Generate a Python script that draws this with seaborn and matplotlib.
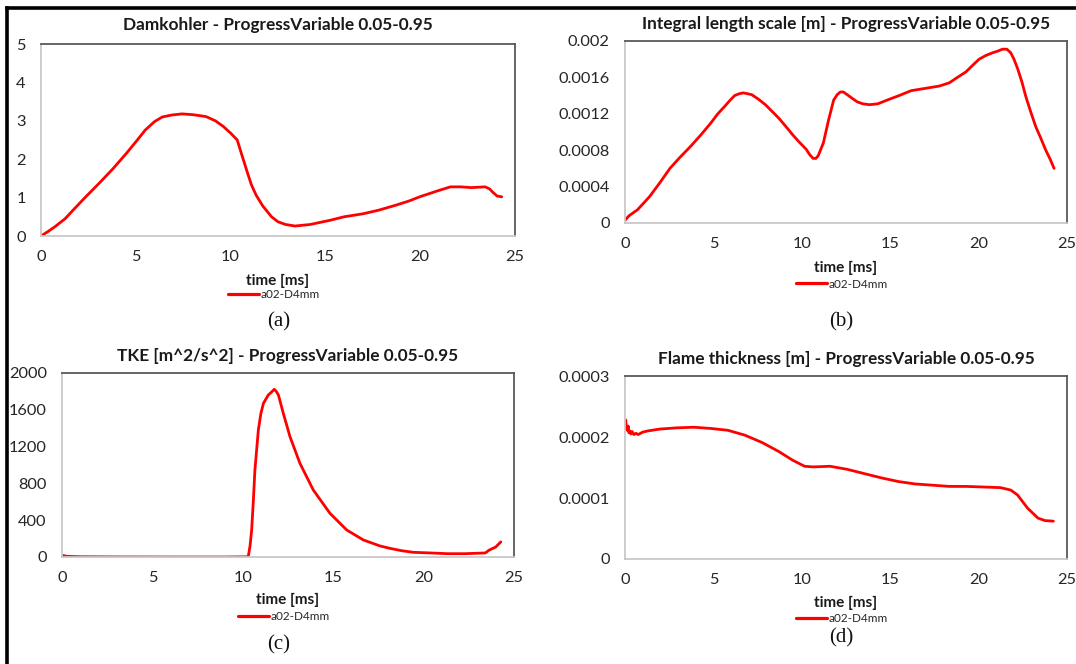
import numpy as np
import pandas as pd
import matplotlib
matplotlib.use("Agg")
import matplotlib.pyplot as plt
from matplotlib.lines import Line2D
import seaborn as sns

# ---- data -------------------------------------------------------------
series_name = "a02-D4mm"
x_ticks = [0, 5, 10, 15, 20, 25]

dam_t = [0.0, 0.35, 0.73, 1.27, 1.8, 2.36, 3.1, 3.81, 4.5, 5.08, 5.5, 5.99,
         6.4, 6.9, 7.44, 8.0, 8.7, 9.2, 9.62, 10.0, 10.35, 10.6, 10.9, 11.1,
         11.35, 11.7, 12.16, 12.5, 12.9, 13.4, 14.2, 15.25, 15.98, 17.0, 17.79,
         18.7, 19.4, 19.97, 20.88, 21.6, 22.15, 22.7, 23.42, 23.65, 23.85,
         24.06, 24.3]
dam_v = [0.0, 0.11, 0.24, 0.45, 0.73, 1.02, 1.39, 1.76, 2.15, 2.5, 2.76, 2.98,
         3.1, 3.15, 3.18, 3.16, 3.11, 3.0, 2.85, 2.68, 2.5, 2.1, 1.63, 1.33,
         1.06, 0.78, 0.5, 0.37, 0.3, 0.26, 0.3, 0.41, 0.5, 0.58, 0.67,
         0.8, 0.91, 1.02, 1.17, 1.28, 1.28, 1.26, 1.28, 1.23, 1.13,
         1.04, 1.02]

ils_t = [0.0, 0.23, 0.71, 1.39, 2.0, 2.54, 3.1, 3.7, 4.3, 4.86, 5.25, 5.63,
         5.95, 6.2, 6.45, 6.69, 6.95, 7.17, 7.55, 7.94, 8.3, 8.71, 9.1, 9.48,
         9.85, 10.25, 10.45, 10.64, 10.8, 10.93, 11.22, 11.5, 11.8, 12.0, 12.18,
         12.35, 12.57, 12.85, 13.15, 13.45, 13.83, 14.3, 14.95, 15.5, 16.18,
         17.0, 17.78, 18.34, 18.8, 19.28, 19.7, 20.03, 20.4, 20.78, 21.1, 21.35,
         21.6, 21.82, 22.0, 22.2, 22.45, 22.67, 22.95, 23.23, 23.5, 23.8, 24.05,
         24.27]
ils_v = [0.00003, 0.00008, 0.000146, 0.00029, 0.00045, 0.0006, 0.00072, 0.00084,
         0.00097, 0.0011, 0.0012, 0.00128, 0.00135, 0.0014, 0.00142, 0.00143,
         0.00142, 0.00141, 0.00136, 0.0013, 0.00123, 0.00115, 0.00106, 0.00097,
         0.00089, 0.00081, 0.00075, 0.00071, 0.00071, 0.00074, 0.00088, 0.00112,
         0.00135, 0.00141, 0.00144, 0.00144, 0.00141, 0.00137, 0.00133, 0.00131,
         0.0013, 0.00131, 0.00136, 0.0014, 0.001454, 0.00148, 0.001505, 0.00154,
         0.0016, 0.00166, 0.00174, 0.0018, 0.00184, 0.00187, 0.00189, 0.00191,
         0.00191, 0.00187, 0.0018, 0.0017, 0.00155, 0.00139, 0.00122, 0.00106,
         0.00094, 0.0008, 0.0007, 0.0006]
ils_ticks = [0, 0.0004, 0.0008, 0.0012, 0.0016, 0.002]
ils_labels = ["0", "0.0004", "0.0008", "0.0012", "0.0016", "0.002"]

tke_t = [0.0, 0.29, 1.0, 3.0, 6.0, 9.0, 10.3, 10.4, 10.49, 10.58, 10.67,
         10.86, 11.0, 11.14, 11.41, 11.6, 11.74, 11.85, 11.97, 12.24, 12.61,
         13.16, 13.9, 14.82, 15.75, 16.67, 17.59, 18.14, 18.8, 19.42, 20.37,
         21.33, 22.28, 23.42, 23.61, 23.99, 24.27]
tke_v = [18, 7, 3, 1, 0, 0, 2, 120, 293, 600, 946,
         1380, 1560, 1670, 1761, 1795, 1823, 1800, 1761, 1562, 1308,
         1018, 728, 475, 293, 185, 120, 94, 68, 51, 44,
         36, 36, 44, 73, 109, 164]
tke_ticks = [0, 400, 800, 1200, 1600, 2000]

ft_t = [0.0, 0.04, 0.08, 0.13, 0.18, 0.22, 0.27, 0.33, 0.4, 0.5, 0.62, 0.75,
        1.0, 1.3, 1.97, 2.93, 3.9, 4.86, 5.82, 6.78, 7.75, 8.71, 9.48, 10.16,
        10.64, 11.6, 12.57, 13.53, 14.5, 15.46, 16.42, 17.39, 18.35, 19.31,
        20.28, 21.24, 21.82, 22.2, 22.78, 23.36, 23.75, 24.23]
ft_v = [0.000222, 0.000228, 0.000214, 0.000211, 0.000218, 0.000207, 0.000210,
        0.000205, 0.000209, 0.000204, 0.000206, 0.000204,
        0.000208, 0.000210, 0.000213, 0.000215, 0.000216, 0.000214, 0.000211,
        0.000203, 0.000191, 0.000176, 0.000162, 0.000152, 0.000151, 0.000152,
        0.000147, 0.00014, 0.000133, 0.000127, 0.000123, 0.000121, 0.000119,
        0.000119, 0.000118, 0.000117, 0.000113, 0.000105, 0.000083, 0.000067,
        0.000063, 0.000062]
ft_ticks = [0, 0.0001, 0.0002, 0.0003]
ft_labels = ["0", "0.0001", "0.0002", "0.0003"]

titles = [
    "Damkohler - ProgressVariable 0.05-0.95",
    "Integral length scale [m] - ProgressVariable 0.05-0.95",
    "TKE [m^2/s^2] - ProgressVariable 0.05-0.95",
    "Flame thickness [m] - ProgressVariable 0.05-0.95",
]
captions = ["(a)", "(b)", "(c)", "(d)"]

# ---- style ------------------------------------------------------------
sns.set_theme(style="white")
plt.rcParams["font.family"] = ["Lato", "DejaVu Sans"]

W, H = 1076, 664
fig = plt.figure(figsize=(W / 100, H / 100), dpi=100)
fig.patch.set_facecolor("white")


def px_axes(left, top, right, bottom):
    return fig.add_axes([left / W, 1 - bottom / H, (right - left) / W, (bottom - top) / H])


# pixel layout of each panel: plot box, title row, axis-title row, legend row, caption
panels = [
    dict(box=(41, 44, 515, 236), t=dam_t, v=dam_v, ylim=(0, 5), yt=[0, 1, 2, 3, 4, 5],
         yl=["0", "1", "2", "3", "4", "5"], title_y=25, xlab_y=281, leg_y=295, cap=(279, 322)),
    dict(box=(625, 41, 1067, 223), t=ils_t, v=ils_v, ylim=(0, 0.002), yt=ils_ticks,
         yl=ils_labels, title_y=24, xlab_y=268, leg_y=284, cap=(841, 322)),
    dict(box=(62, 373, 514, 557), t=tke_t, v=tke_v, ylim=(0, 2000), yt=tke_ticks,
         yl=[str(v) for v in tke_ticks], title_y=356, xlab_y=600, leg_y=617, cap=(279, 645)),
    dict(box=(625, 376, 1067, 559), t=ft_t, v=ft_v, ylim=(0, 0.0003), yt=ft_ticks,
         yl=ft_labels, title_y=359, xlab_y=603, leg_y=619, cap=(841, 638)),
]

red = "#ff0000"
for p, title, cap in zip(panels, titles, captions):
    left, top, right, bottom = p["box"]
    hgt = bottom - top
    ax = px_axes(left, top, right, bottom)
    df = pd.DataFrame({"time": p["t"], "value": p["v"], "case": series_name})
    sns.lineplot(data=df, x="time", y="value", hue="case", palette=[red],
                 linewidth=2.0, ax=ax, legend=False)
    ax.set_xlim(0, 25)
    ax.set_ylim(*p["ylim"])
    ax.set_xticks(x_ticks)
    ax.set_xticklabels([str(v) for v in x_ticks])
    ax.set_yticks(p["yt"])
    ax.set_yticklabels(p["yl"])
    ax.tick_params(axis="both", length=0, labelsize=11.8, colors="#262626")
    ax.tick_params(axis="x", pad=10)
    ax.tick_params(axis="y", pad=11)
    for side in ("top", "right"):
        ax.spines[side].set_color("#595959")
        ax.spines[side].set_linewidth(1.3)
    for side in ("left", "bottom"):
        ax.spines[side].set_color("#c8c8c8")
        ax.spines[side].set_linewidth(1.3)
    ax.set_title(title, fontsize=12.4, fontweight="bold", color="#1a1a1a",
                 y=1 + (top - p["title_y"]) / hgt, va="center", pad=0)
    ax.set_xlabel("time [ms]", fontsize=11, fontweight="bold", color="#1a1a1a", va="center")
    ax.set_ylabel("")
    ax.xaxis.set_label_coords(0.5, (bottom - p["xlab_y"]) / hgt)
    handle = Line2D([], [], color=red, linewidth=2.3)
    ax.legend([handle], [series_name], loc="center",
              bbox_to_anchor=((left + right) / 2 / W - 4 / W, 1 - p["leg_y"] / H),
              bbox_transform=fig.transFigure,
              frameon=False, fontsize=8.5, handlelength=2.6, handletextpad=0.15,
              borderaxespad=0, borderpad=0, labelcolor="#262626")
    fig.text(p["cap"][0] / W, 1 - p["cap"][1] / H, cap, ha="center", va="center",
             fontsize=15, family="Liberation Serif", color="#111111")

# outer frame: left and top edges
fig.add_artist(Line2D([7.3 / W, 7.3 / W], [0, 1 - 8 / H], color="black", linewidth=2.6,
                      transform=fig.transFigure, solid_capstyle="projecting"))
fig.add_artist(Line2D([7.3 / W, 1], [1 - 8 / H, 1 - 8 / H], color="black", linewidth=2.6,
                      transform=fig.transFigure, solid_capstyle="projecting"))

fig.savefig("out.png", dpi=100, facecolor="white")
